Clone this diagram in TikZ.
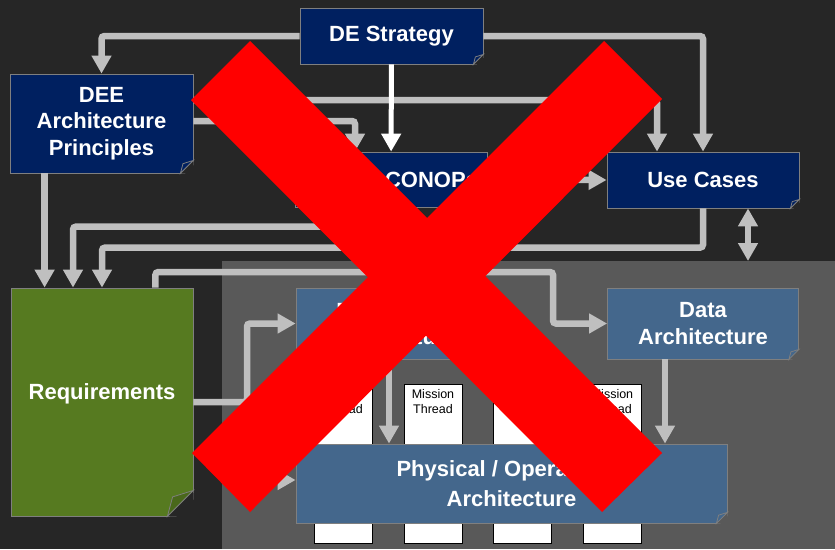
\documentclass[tikz,border=0pt]{standalone}
\usepackage{fontspec}
\setmainfont{Liberation Sans}
\usetikzlibrary{arrows.meta}

\definecolor{bgdark}{HTML}{262626}
\definecolor{panelgray}{HTML}{595959}
\definecolor{navy}{HTML}{002060}
\definecolor{steel}{HTML}{44678C}
\definecolor{leaf}{HTML}{567A20}
\definecolor{boxline}{HTML}{7F7F7F}
\definecolor{flowgray}{HTML}{BFBFBF}
\definecolor{xred}{HTML}{FF0000}

\tikzset{
	box/.style={draw=boxline, line width=0.8pt, inner sep=0pt, text=white, align=center,
		font=\fontsize{22}{26.5}\selectfont\bfseries},
	thread/.style={draw=black, fill=white, line width=0.8pt, inner sep=0pt,
		minimum width=58pt, minimum height=159pt},
	mtext/.style={anchor=north, align=center, inner sep=6pt, text=black,
		font=\fontsize{12.5}{14.5}\selectfont},
	flow/.style={draw=flowgray, line width=6.5pt, rounded corners=3pt,
		-{Triangle[width=19pt,length=18pt]}},
	flowboth/.style={flow, {Triangle[width=19pt,length=18pt]}-{Triangle[width=19pt,length=18pt]}},
	mainflow/.style={draw=white, line width=5pt, -{Triangle[width=19pt,length=18pt]}}
}

% folded corner: node, size, fold fill, ground colour
\newcommand\pagefold[4]{%
	\fill[#4] ([xshift=-#2]#1.south east) -- ([xshift=1pt,yshift=-1pt]#1.south east) -- ([yshift=#2]#1.south east) -- cycle;
	\filldraw[draw=boxline, line width=0.8pt, fill=#3] ([xshift=-#2]#1.south east)
		-- ([xshift=-0.8*#2, yshift=0.75*#2]#1.south east) -- ([yshift=#2]#1.south east) -- cycle;
}

\begin{document}
\begin{tikzpicture}[x=1pt, y=-1pt]
	\useasboundingbox (0,0) rectangle (835,549);
	\fill[bgdark] (0,0) rectangle (835,549);
	\fill[panelgray] (222,261) rectangle (835,549);
	\coordinate (panel) at (748,261);
	\coordinate (reqsplit) at (247,402);
	\coordinate (databend) at (553,272);

	\begin{scope}[every node/.style={box, fill=navy}]
		\node[minimum width=183pt, minimum height=56pt] (strat) at (391.5,36) {DE Strategy};
		\node[minimum width=183pt, minimum height=99pt] (princ) at (101.5,123.5) {DEE\\Architecture\\Principles};
		\node[minimum width=192pt, minimum height=55pt, text width=174pt, align=right] (conops) at (391,179.5) {CONOPs};
		\node[minimum width=192pt, minimum height=56pt] (usecases) at (703,180) {Use Cases};
	\end{scope}
	\node[box, fill=leaf, minimum width=182pt, minimum height=228pt, text depth=20pt] (reqs) at (102,402) {Requirements};

	\foreach \x in {343,433,522,612}
		\node[thread, label={[mtext]north:Mission\\Thread}] (mt\x) at (\x,463.5) {};

	\begin{scope}[every node/.style={box, fill=steel}]
		\node[minimum width=192pt, minimum height=71pt] (func) at (392,323.5) {Functional\\Architecture};
		\node[minimum width=191pt, minimum height=71pt] (data) at (703,323.5) {Data\\Architecture};
		\node[minimum width=431pt, minimum height=79pt, font=\fontsize{22}{30}\selectfont\bfseries] (phys) at (511.5,483.5) {Physical / Operational\\Architecture};
	\end{scope}

	\pagefold{strat}{10pt}{navy}{bgdark}
	\pagefold{princ}{13pt}{navy}{bgdark}
	\pagefold{conops}{10pt}{navy}{bgdark}
	\pagefold{usecases}{9pt}{navy}{bgdark}
	\pagefold{reqs}{26pt}{leaf!85!black}{bgdark}
	\pagefold{func}{10pt}{steel}{panelgray}
	\pagefold{data}{10pt}{steel}{panelgray}
	\pagefold{phys}{11pt}{steel}{panelgray}

	\draw[flow] (strat.west) -| (princ.north);
	\draw[flow] (strat.east) -| (usecases.north);
	\draw[flow] ([yshift=23.5pt]princ.east) -| ([xshift=-46pt]usecases.north);
	\draw[flow] ([yshift=2.5pt]princ.east) -| ([xshift=-36pt]conops.north);
	\draw[mainflow] (strat) -- (conops);
	\draw[flow] (conops.east) -- (usecases.west);
	\draw[flow] ([xshift=35pt]princ.south west) -- ([xshift=35pt]princ.south west |- reqs.north);
	\draw[flow] ([xshift=-21pt]conops.south) |- ([xshift=-29pt,yshift=61pt]reqs.north) -- ([xshift=-29pt]reqs.north);
	\draw[flow] (usecases.south) |- ([yshift=40pt]reqs.north) -- (reqs.north);
	\draw[flow] ([xshift=-38pt]reqs.north east) |- (databend) |- (data.west);
	\draw[flow] (reqs.east) -- (reqsplit) |- (func.west);
	\draw[flow] (reqsplit) |- ([yshift=3.5pt]phys.west);
	\draw[flow] ([xshift=-3pt]func.south) -- ([xshift=-3pt]func.south |- phys.north);
	\draw[flow] ([xshift=-38pt]data.south) -- ([xshift=-38pt]data.south |- phys.north);
	\draw[flowboth] ([xshift=45pt]usecases.south) -- (panel);

	% the big cross over everything
	\fill[xred] (250,41) -- (662,453) -- (602,512) -- (191,100) -- cycle;
	\fill[xred] (604,41) -- (662,99) -- (250,512) -- (192,453) -- cycle;
\end{tikzpicture}
\end{document}
